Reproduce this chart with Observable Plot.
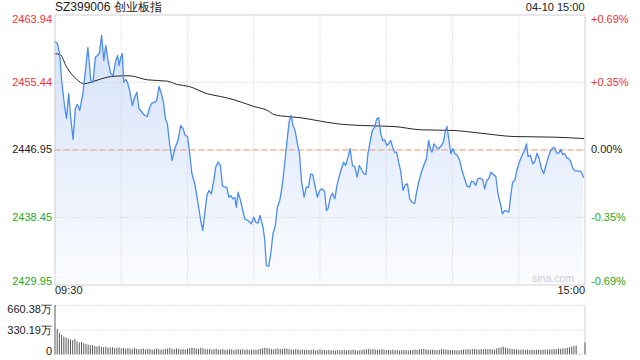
<!DOCTYPE html>
<html><head><meta charset="utf-8">
<script src="https://cdn.jsdelivr.net/npm/d3@7"></script>
<script src="https://cdn.jsdelivr.net/npm/@observablehq/plot@0.6"></script>
<style>
body{margin:0;background:#fff;}
#wrap{position:relative;width:640px;height:360px;font-family:Arial,"Liberation Sans",sans-serif;overflow:hidden;}
#wrap svg{position:absolute;left:0;overflow:visible;}
.lbl{position:absolute;white-space:nowrap;color:#222;}
</style></head><body><div id="wrap"></div>
<script>
const title = "SZ399006 创业板指";
const stamp = "04-10 15:00";
const prevClose = 2446.95;
const priceTicks = [2463.94, 2455.44, 2446.95, 2438.45, 2429.95];
const pctLabels = ["+0.69%", "+0.35%", "0.00%", "-0.35%", "-0.69%"];
const timeLabels = ["09:30", "15:00"];
const timeDomain = [0, 240];
const gridMinutes = [30, 60, 90, 120, 150, 180, 210];

const minutes = [
0,1.1,2.1,3.0,4.4,5.2,6.2,7.1,8.2,9.2,
10.1,11.2,12.7,13.8,14.9,16.2,17.2,18.3,19.2,20.1,
21.1,22.1,23.0,24.0,25.2,26.3,27.4,28.3,29.0,29.8,
30.5,31.1,32.0,32.8,33.8,35.0,36.1,37.1,38.0,39.4,
40.6,41.8,42.9,43.9,45.1,46.1,47.1,48.2,49.1,50.0,
50.9,51.9,53.0,54.2,55.7,56.9,58.0,59.0,60.0,61.0,
62.0,63.3,64.8,66.0,66.9,67.8,68.8,69.7,70.8,71.9,
72.8,73.8,74.9,75.8,76.8,77.8,78.7,79.6,80.5,81.4,
82.1,82.9,84.0,84.7,85.9,87.4,88.9,90.0,90.9,91.9,
92.8,94.2,95.0,95.7,96.8,97.7,98.7,99.8,100.7,101.8,
102.8,104.0,105.1,106.0,106.9,107.8,108.7,109.8,110.7,111.6,
112.8,113.8,114.8,115.8,116.7,117.7,118.8,119.9,120.9,122.1,
122.9,123.6,124.7,125.6,126.7,127.7,128.6,129.7,130.7,131.6,
132.7,133.6,134.7,135.7,136.8,137.8,139.0,139.9,140.8,141.7,
142.8,143.7,144.8,145.7,146.6,147.5,148.4,149.3,150.2,151.1,
152.0,152.9,153.8,154.7,155.6,156.5,157.6,158.7,159.6,160.6,
161.7,162.9,163.6,164.7,165.9,167.0,168.2,169.2,170.0,170.7,
171.6,172.7,173.7,175.0,175.9,176.8,177.5,178.4,179.3,180.2,
181.1,182.2,183.3,184.3,185.5,186.6,187.7,188.6,189.6,190.5,
191.5,192.6,193.7,194.6,195.5,196.4,197.4,198.5,199.6,200.6,
201.7,202.6,203.7,204.5,205.5,206.3,207.2,208.2,209.1,210.0,
210.9,211.8,212.7,213.5,214.2,215.3,216.3,217.2,218.3,219.2,
220.3,221.3,222.3,223.4,224.5,225.5,226.3,227.2,228.1,229.0,
229.9,230.8,231.7,232.6,233.5,234.4,235.3,236.5,237.6,238.4,
239.3];

const prices = [
2460.60,2460.31,2459.09,2455.69,2452.30,2450.91,2454.06,2451.04,2448.27,2452.17,
2452.67,2451.92,2454.18,2456.95,2459.85,2455.69,2455.48,2458.63,2458.84,2459.09,
2461.36,2458.21,2460.10,2458.21,2456.58,2456.32,2458.00,2458.84,2457.58,2458.63,
2459.09,2455.48,2455.82,2455.48,2454.44,2452.55,2453.59,2454.22,2452.17,2451.70,
2451.29,2451.16,2452.33,2452.84,2452.96,2453.18,2454.94,2454.02,2452.96,2450.87,
2450.24,2447.73,2445.62,2447.10,2448.14,2450.03,2449.61,2448.77,2448.64,2446.47,
2443.95,2442.69,2440.17,2438.07,2436.81,2438.91,2441.22,2441.85,2441.43,2443.10,
2444.78,2445.41,2444.99,2442.48,2442.26,2442.26,2441.00,2441.22,2440.80,2440.97,
2439.74,2441.63,2440.59,2439.74,2438.28,2438.07,2437.65,2438.48,2437.86,2437.73,
2438.70,2437.23,2435.55,2432.40,2432.32,2433.88,2436.40,2437.44,2439.74,2440.59,
2442.26,2445.21,2448.14,2450.44,2451.29,2450.03,2449.40,2447.73,2446.47,2443.10,
2441.00,2442.26,2442.26,2443.95,2443.86,2442.48,2441.00,2441.85,2442.06,2441.72,
2439.33,2439.54,2441.00,2441.51,2440.80,2442.48,2443.52,2444.58,2445.41,2444.99,
2446.04,2447.10,2444.99,2444.87,2443.52,2444.99,2444.36,2443.95,2443.86,2446.47,
2448.14,2449.40,2449.82,2450.87,2451.00,2448.98,2448.14,2448.23,2447.51,2447.73,
2448.14,2447.30,2446.67,2446.67,2445.41,2444.36,2441.85,2442.60,2442.69,2440.80,
2440.37,2440.21,2441.43,2442.89,2444.15,2444.99,2445.84,2448.14,2447.10,2446.67,
2447.73,2447.30,2447.10,2447.51,2447.93,2449.40,2449.90,2448.14,2446.47,2447.10,
2446.47,2446.25,2445.62,2444.36,2443.32,2442.39,2442.26,2443.02,2442.89,2442.48,
2443.32,2443.39,2443.19,2442.06,2443.10,2443.32,2444.15,2443.86,2443.61,2441.43,
2440.17,2438.91,2439.33,2439.24,2439.11,2441.00,2442.89,2443.10,2444.36,2445.21,
2445.84,2446.47,2446.88,2447.73,2446.13,2446.25,2445.21,2445.41,2446.54,2445.84,
2444.58,2443.95,2444.99,2446.04,2446.88,2447.22,2447.22,2446.54,2446.54,2447.01,
2446.38,2446.47,2445.96,2445.84,2445.53,2444.70,2444.36,2444.28,2444.28,2444.15,
2443.52];

const avgMinutes = [0,2.3,5.3,10.1,13.1,17.7,23.7,27.5,33.5,41.8,50.9,55.4,60.7,69.0,75.0,81.1,90.1,96.2,99.2,105.2,111.3,120.3,127.9,143.0,153.5,165.6,180.7,192.8,207.9,226.0,239.5];
const avgPrices = [2459.06,2458.97,2457.37,2455.78,2455.28,2455.61,2456.11,2456.24,2456.29,2455.78,2455.61,2455.19,2454.94,2454.02,2453.68,2453.26,2452.42,2451.92,2451.41,2451.16,2451.00,2450.57,2450.24,2449.99,2449.90,2449.49,2449.40,2449.06,2448.64,2448.56,2448.39];

// volume per minute, in 万 (09:30 .. 15:00)
const volumes = [
660,340,285,262,240,226,214,200,192,208,
176,160,165,150,140,131,122,126,112,106,
116,101,96,104,90,95,99,86,90,94,
82,88,76,84,80,72,86,78,70,74,
80,68,72,76,66,70,78,72,64,70,
74,80,88,76,70,82,74,68,72,66,
78,84,90,86,80,76,92,84,72,70,
74,66,70,78,64,68,72,62,66,70,
68,60,66,72,64,70,62,68,60,64,
66,62,70,74,82,90,86,78,72,70,
76,80,74,72,82,78,70,66,64,72,
68,62,66,60,64,58,62,66,56,60,
72,58,62,56,60,54,58,52,60,56,
58,62,54,60,56,64,58,52,56,60,
66,70,74,68,72,66,62,64,70,66,
60,62,58,64,56,60,52,58,62,56,
54,58,62,66,60,70,72,74,68,64,
62,66,60,58,64,70,72,66,62,60,
56,60,54,58,62,64,68,72,66,70,
74,70,66,72,68,76,70,74,68,66,
80,88,96,104,92,84,78,72,70,68,
66,64,70,62,66,60,64,58,62,66,
60,64,68,62,70,66,74,72,78,76,
82,80,88,96,104,112,120,6,4,3,
160];
const volTicks = [660.38, 330.19, 0];
const volLabels = ["660.38万", "330.19万", "0"];
const watermark = "sina.com";

const RED = "#f03232", GREEN = "#22a822", DARK = "#222";
const tickColor = v => v > prevClose ? RED : v < prevClose ? GREEN : DARK;

const priceData = minutes.map((m, i) => ({m, p: prices[i]}));
const avgData = avgMinutes.map((m, i) => ({m, p: avgPrices[i]}));
const volData = volumes.map((v, i) => ({m: i, v}));
const tickData = priceTicks.map((v, i) => ({v, pct: pctLabels[i], label: v.toFixed(2), c: tickColor(v), i}));
const volTickData = volTicks.map((v, i) => ({v, label: volLabels[i], i}));

const FONT = "Arial, 'Liberation Sans', sans-serif";
const grid = {stroke: "#c8c8c8", strokeDasharray: "1,2", strokeWidth: 1};

const defsMark = () => {
  const d = d3.create("svg:defs");
  const g = d.append("linearGradient").attr("id", "pgrad").attr("x1", 0).attr("y1", 0).attr("x2", 0).attr("y2", 1);
  g.append("stop").attr("offset", "0%").attr("stop-color", "#d5e2f9");
  g.append("stop").attr("offset", "100%").attr("stop-color", "#fbfcff");
  return d.node();
};

const tTop = tickData.filter(d => d.i === 0);
const tMid = tickData.filter(d => d.i > 0 && d.i < 4);
const tBot = tickData.filter(d => d.i === 4);

const pricePlot = Plot.plot({
  width: 640, height: 300,
  marginTop: 14.5, marginBottom: 15.5, marginLeft: 54.5, marginRight: 55.5,
  x: {domain: timeDomain, axis: null},
  y: {domain: [priceTicks[4], priceTicks[0]], axis: null},
  color: {type: "identity"},
  style: {fontFamily: FONT, fontSize: "11px", background: "transparent", overflow: "visible"},
  marks: [
    defsMark,
    Plot.areaY(priceData, {x: "m", y1: priceTicks[4], y2: "p", fill: "url(#pgrad)"}),
    Plot.ruleY([priceTicks[1], priceTicks[2], priceTicks[3]], grid),
    Plot.ruleX(gridMinutes, grid),
    Plot.ruleY([prevClose], {stroke: "#f0a070", strokeDasharray: "6,3", strokeWidth: 1}),
    Plot.line(avgData, {x: "m", y: "p", stroke: "#262626", strokeWidth: 1, curve: "monotone-x"}),
    Plot.line(priceData, {x: "m", y: "p", stroke: "#4a8cf2", strokeWidth: 1.3}),
    Plot.frame({stroke: "#cfcfcf"}),
    Plot.text(tTop, {y: "v", text: "label", fill: "c", frameAnchor: "left", textAnchor: "end", dx: -3, lineAnchor: "top", fontSize: 11}),
    Plot.text(tMid, {y: "v", text: "label", fill: "c", frameAnchor: "left", textAnchor: "end", dx: -3, lineAnchor: "middle", fontSize: 11}),
    Plot.text(tBot, {y: "v", text: "label", fill: "c", frameAnchor: "left", textAnchor: "end", dx: -3, lineAnchor: "bottom", fontSize: 11}),
    Plot.text(tTop, {y: "v", text: "pct", fill: "c", frameAnchor: "right", textAnchor: "start", dx: 6, lineAnchor: "top", fontSize: 11}),
    Plot.text(tMid, {y: "v", text: "pct", fill: "c", frameAnchor: "right", textAnchor: "start", dx: 6, lineAnchor: "middle", fontSize: 11}),
    Plot.text(tBot, {y: "v", text: "pct", fill: "c", frameAnchor: "right", textAnchor: "start", dx: 6, lineAnchor: "bottom", fontSize: 11}),
    Plot.text([timeLabels[0]], {x: timeDomain[0], text: d => d, frameAnchor: "bottom", textAnchor: "start", dy: 9, fill: DARK, fontSize: 11}),
    Plot.text([timeLabels[1]], {x: timeDomain[1], text: d => d, frameAnchor: "bottom", textAnchor: "end", dy: 9, fill: DARK, fontSize: 11}),
    Plot.text([watermark], {frameAnchor: "bottom-right", text: d => d, textAnchor: "end", lineAnchor: "bottom", dx: -11, dy: -3, fill: "#cccccc", fontSize: 10.5})
  ]
});
pricePlot.style.top = "0px";

const volPlot = Plot.plot({
  width: 640, height: 60,
  marginTop: 5, marginBottom: 5.5, marginLeft: 54.5, marginRight: 55.5,
  x: {domain: timeDomain, axis: null},
  y: {domain: [volTicks[2], volTicks[0]], axis: null},
  style: {fontFamily: FONT, fontSize: "11px", background: "transparent", overflow: "visible"},
  marks: [
    Plot.ruleY([volTicks[0], volTicks[1]], grid),
    Plot.ruleX([timeDomain[1]], {y1: volTicks[2], y2: volTicks[0], stroke: "#cfcfcf"}),
    Plot.ruleX(volData, {x: "m", y1: 0, y2: "v", stroke: "#5a5a5a", strokeWidth: 1}),
    Plot.text(volTickData.filter(d => d.i === 0), {y: "v", text: "label", frameAnchor: "left", textAnchor: "end", dx: -3, lineAnchor: "top", fill: DARK, fontSize: 11}),
    Plot.text(volTickData.filter(d => d.i === 1), {y: "v", text: "label", frameAnchor: "left", textAnchor: "end", dx: -3, lineAnchor: "middle", fill: DARK, fontSize: 11}),
    Plot.text(volTickData.filter(d => d.i === 2), {y: "v", text: "label", frameAnchor: "left", textAnchor: "end", dx: -3, lineAnchor: "bottom", fill: DARK, fontSize: 11})
  ]
});
volPlot.style.top = "300px";

const wrap = document.getElementById("wrap");
wrap.append(pricePlot, volPlot);
const t1 = document.createElement("div");
t1.className = "lbl"; t1.textContent = title;
Object.assign(t1.style, {left: "55px", top: "0px", fontSize: "12px", lineHeight: "14px"});
const t2 = document.createElement("div");
t2.className = "lbl"; t2.textContent = stamp;
Object.assign(t2.style, {right: "55.5px", top: "0px", fontSize: "11px", lineHeight: "14px"});
wrap.append(t1, t2);
</script></body></html>
